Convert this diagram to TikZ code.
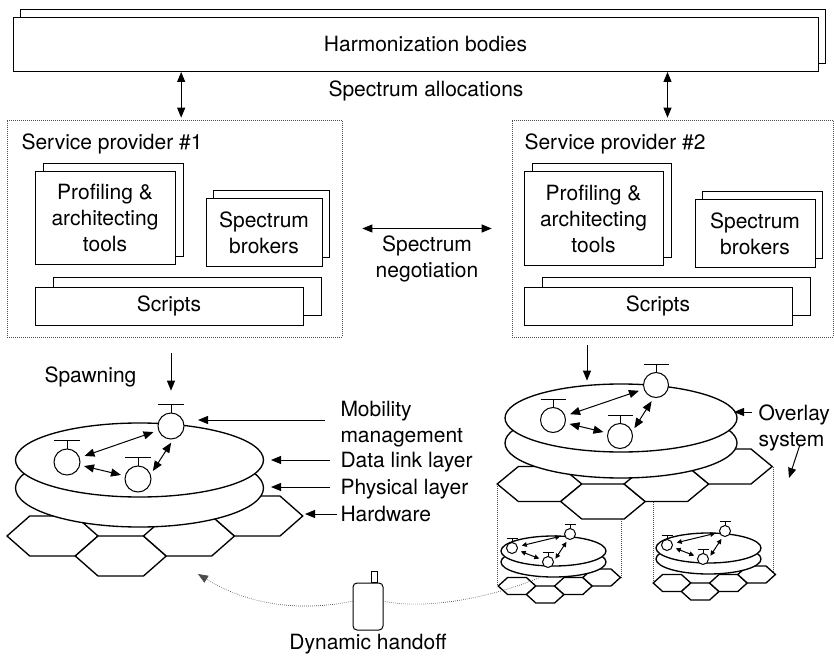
\documentclass[tikz,border=0pt]{standalone}
\usepackage{fontspec}
\setmainfont{TeX Gyre Heros}
\usetikzlibrary{arrows.meta,positioning,fit}

\tikzset{every picture/.style={line width=0.75pt}}
\tikzset{
  every node/.style={font=\fontsize{15.75pt}{19.5pt}\selectfont},
  stack/.style={draw, fill=white, align=center, inner sep=0pt,
    preaction={draw, fill=white, transform canvas={shift={(#1)}}}},
  provider/.style={draw=black!70, densely dotted, line width=0.5pt, inner sep=0pt},
  lbl/.style={inner sep=0pt, align=left},
  agent/.style={circle, draw, fill=white, inner sep=0pt},
  disk/.style={draw, fill=white, line width=1pt},
  cell/.style={draw, fill=white, line width=1pt},
  guide/.style={densely dotted, draw=black!70, line width=0.5pt},
  tip/.style={-{Triangle[length=7.5pt,width=6pt]}},
  dbl/.style={{Triangle[length=7.5pt,width=6pt]}-{Triangle[length=7.5pt,width=6pt]}},
  sdbl/.style={{Triangle[length=3.75pt,width=3.5pt]}-{Triangle[length=3.75pt,width=3.5pt]}},
}

% one flattened hexagon: centre x, centre y, half width, half height
\newcommand{\hexcell}[4]{%
  \draw[cell] (#1-#3,#2) -- ++(0.5*#3,-#4) -- ++(#3,0) -- ++(0.5*#3,#4)
    -- ++(-0.5*#3,#4) -- ++(-#3,0) -- cycle;}
% mobile agent with antenna: name, x, y, radius
\newcommand{\agent}[4]{%
  \node[agent, minimum size=1.5*#4pt] (#1) at (#2,#3) {};
  \draw (#1.north) -- ++(0,-0.6*#4) coordinate (#1-t) ++(-#4,0) -- ++(2*#4,0);}

\begin{document}
\begin{tikzpicture}[x=0.75pt,y=0.75pt,yscale=-1,xscale=1]
\useasboundingbox (0,0) rectangle (834,659);

%Harmonization bodies
\node[stack={5.25pt,6pt}, minimum width=603.75pt, minimum height=40.5pt] (hb) at (415.5,44.5) {\hspace*{15pt}Harmonization bodies};

%Service providers
\node[provider, fit={(7,120) (342,337)}] (sp1) {};
\node[provider, fit={(512,120) (833,337)}] (sp2) {};
\node[lbl, anchor=base west] (sp1t) at (21,150) {Service provider \#1};
\node[lbl, anchor=base west] (sp2t) at (524,150) {Service provider \#2};

\node[stack={6.4pt,6pt}, minimum width=105pt, minimum height=69pt] (tools1) at (105,218) {Profiling \&\\architecting\\tools};
\node[stack={5.6pt,6.4pt}, minimum width=87pt, minimum height=50.25pt] (brk1) at (264,232.5) {Spectrum\\brokers};
\node[stack={13.5pt,7.5pt}, minimum width=201pt, minimum height=28.5pt] (scr1) at (169,306) {Scripts};
\node[stack={6.4pt,6pt}, minimum width=104.25pt, minimum height=69.75pt] (tools2) at (593.5,218.5) {Profiling \&\\architecting\\tools};
\node[stack={5.6pt,6.4pt}, minimum width=90pt, minimum height=50.25pt] (brk2) at (755,233.5) {Spectrum\\brokers};
\node[stack={13.5pt,7.5pt}, minimum width=201pt, minimum height=28.5pt] (scr2) at (658,306) {Scripts};

%Spectrum allocations
\coordinate (al1) at ([xshift=5pt]sp1.north);
\coordinate (al2) at ([xshift=-3.75pt]sp2.north);
\draw[dbl, shorten >=1.5pt] (al1 |- hb.south) -- (al1);
\draw[dbl, shorten >=1.5pt] (al2 |- hb.south) -- (al2);
\node[lbl, anchor=base] (alloc) at (426,97) {Spectrum allocations};

%Spectrum negotiation
\draw[dbl, shorten <=15pt, shorten >=15pt] (sp1) -- (sp2);
\node[lbl, align=center] (neg) at (427,259) {Spectrum\\negotiation};

%Dotted projection lines
\draw[guide] (497.5,484) -- (497.5,586);
\draw[guide] (621,519) -- (621,577.5);
\draw[guide] (653.2,502) -- (653.2,583);
\draw[guide] (773.5,466.5) -- (773.5,574.5);

%Left system
\hexcell{52.5}{536}{45.5}{20}
\hexcell{120.75}{556}{45.5}{20}
\hexcell{189}{536}{45.5}{20}
\hexcell{257.25}{516}{45.5}{20}
\draw[disk] (139.5,488) ellipse [x radius=124, y radius=39];
\draw[disk] (139.5,460) ellipse [x radius=124, y radius=37];
\agent{a1}{171}{426}{13}
\agent{a2}{67}{462}{13}
\agent{a3}{138}{479}{13}
\draw[dbl, shorten <=3.75pt, shorten >=3.75pt] (a2) -- (a1);
\draw[dbl, shorten <=3pt, shorten >=3pt] (a2) -- (a3);
\draw[dbl, shorten <=3pt, shorten >=3pt] (a3.20) -- (a1.-80);

%Right system
\hexcell{539.5}{484}{42.3}{17.5}
\hexcell{602.95}{501.5}{42.3}{17.5}
\hexcell{666.4}{484}{42.3}{17.5}
\hexcell{729.85}{466.5}{42.3}{17.5}
\draw[disk] (621,443) ellipse [x radius=116, y radius=35];
\draw[disk] (621,418) ellipse [x radius=116, y radius=34];
\agent{b1}{656}{385}{12.5}
\agent{b2}{553}{420}{12.5}
\agent{b3}{620}{436}{12.5}
\draw[dbl, shorten <=3.75pt, shorten >=3.75pt] (b2) -- (b1);
\draw[dbl, shorten <=3pt, shorten >=3pt] (b2) -- (b3);
\draw[dbl, shorten <=3pt, shorten >=3pt] (b3.20) -- (b1.-100);

%Overlay cells
\hexcell{517}{586}{18.8}{8.5}
\hexcell{545.2}{594.5}{18.8}{8.5}
\hexcell{573.4}{586}{18.8}{8.5}
\hexcell{601.6}{577.5}{18.8}{8.5}
\draw[disk] (553.5,562) ellipse [x radius=52.5, y radius=15];
\draw[disk] (553.5,551) ellipse [x radius=52.5, y radius=15];
\agent{c1}{570}{534}{5.5}
\agent{c2}{512}{548}{5.5}
\agent{c3}{548}{562}{5.5}
\draw[sdbl, shorten <=3pt, shorten >=3pt] (c2) -- (c1);
\draw[sdbl, shorten <=2.5pt, shorten >=2.5pt] (c2) -- (c3);
\draw[sdbl, shorten <=2pt, shorten >=2pt] (c3.10) -- (c1.-110);

\hexcell{672}{583}{18.8}{8.5}
\hexcell{700.2}{591.5}{18.8}{8.5}
\hexcell{728.4}{583}{18.8}{8.5}
\hexcell{756.6}{574.5}{18.8}{8.5}
\draw[disk] (708.5,559) ellipse [x radius=52.5, y radius=15];
\draw[disk] (708.5,548) ellipse [x radius=52.5, y radius=15];
\agent{d1}{725}{531}{5.5}
\agent{d2}{667}{545}{5.5}
\agent{d3}{703}{559}{5.5}
\draw[sdbl, shorten <=3pt, shorten >=3pt] (d2) -- (d1);
\draw[sdbl, shorten <=2.5pt, shorten >=2.5pt] (d2) -- (d3);
\draw[sdbl, shorten <=2pt, shorten >=2pt] (d3.10) -- (d1.-110);

%Spawning
\node[lbl, anchor=base west] (spawn) at (44,382) {Spawning};
\draw[tip, shorten <=12pt, shorten >=10.5pt] (sp1.south -| a1-t) -- (a1-t);
\coordinate (b0) at (587,386);
\draw[tip, shorten <=6pt, shorten >=4pt] (sp2.south -| b0) -- (b0);

%Layer labels
\node[lbl, anchor=north west] (mob) at (340,401) {Mobility\\management};
\node[lbl, anchor=base west] (dll) at (340,467) {Data link layer};
\node[lbl, anchor=base west] (phy) at (340,494) {Physical layer};
\node[lbl, anchor=base west] (hw) at (340,521) {Hardware};
\coordinate (mobtip) at (198,420);
\coordinate (dlltip) at (271,460);
\coordinate (phytip) at (271,487);
\coordinate (hwtip) at (305,514);
\draw[tip, shorten <=11pt] (mob.west |- mobtip) -- (mobtip);
\draw[tip, shorten <=7.5pt] (dll.west |- dlltip) -- (dlltip);
\draw[tip, shorten <=7.5pt] (phy.west |- phytip) -- (phytip);
\draw[tip, shorten <=2pt] (hw.west |- hwtip) -- (hwtip);

\node[lbl, anchor=north west] (ovl) at (758,404) {Overlay\\system};
\coordinate (ovtip) at (734,412);
\coordinate (ovtip2) at (789,478);
\draw[tip, shorten <=4.5pt] (ovl.west |- ovtip) -- (ovtip);
\draw[tip] ([xshift=4pt,yshift=-4pt]ovl.south) -- (ovtip2);

%Dynamic handoff
\node[draw, rounded corners=3pt, minimum width=22.5pt, minimum height=35.25pt, inner sep=0pt] (ph) at (368,606.5) {};
\draw ([xshift=2.25pt]ph.north) rectangle ++(6,-11);
\node[lbl, below=2.5pt of ph] (ho) {Dynamic handoff};
\coordinate (ho1) at (198,574);
\coordinate (ho2) at (543,576);
\draw[guide, tip] ([yshift=-4pt]ph.west) .. controls (290,614) and (240,600) .. (ho1);
\draw[guide] ([yshift=-4pt]ph.east) .. controls (430,611) and (500,595) .. (ho2);

\end{tikzpicture}
\end{document}
